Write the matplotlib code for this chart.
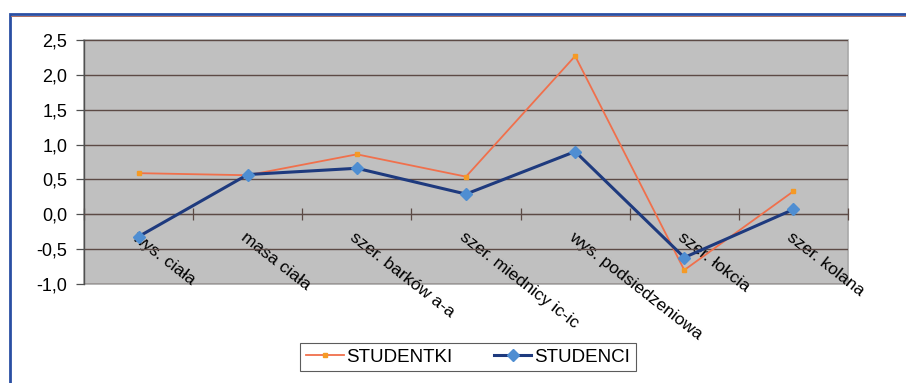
import matplotlib
matplotlib.use("Agg")
import matplotlib.pyplot as plt
from matplotlib.patches import Rectangle
from matplotlib.lines import Line2D
from matplotlib.ticker import FuncFormatter, FixedLocator
import numpy as np

plt.rcParams['font.family'] = ['Liberation Sans', 'DejaVu Sans']

categories = ["wys. ciała", "masa ciała", "szer. barków a-a", "szer. miednicy ic-ic",
              "wys. podsiedzeniowa", "szer. łokcia", "szer. kolana"]
studentki = [0.59, 0.56, 0.86, 0.54, 2.27, -0.80, 0.33]
studenci = [-0.32, 0.57, 0.66, 0.29, 0.90, -0.62, 0.07]
y_ticks = [-1.0, -0.5, 0.0, 0.5, 1.0, 1.5, 2.0, 2.5]

W, H = 906, 383
fig = plt.figure(figsize=(W / 100, H / 100), dpi=100)

# outer frame (continues past the right and bottom edges)
fig.patches.append(Rectangle((9.8 / W, -0.1), 1.2, 1 - 13.8 / H + 0.1,
                             transform=fig.transFigure, fill=False,
                             edgecolor='#2A4FA3', linewidth=2.0, zorder=0))
fig.add_artist(Line2D([11 / W, 1], [1 - 15.8 / H] * 2, transform=fig.transFigure,
                      color='#B07060', linewidth=0.7))

ax = fig.add_axes([84 / W, 1 - 284 / H, (848 - 84) / W, (284 - 40) / H])
ax.set_facecolor('#C0C0C0')
ax.patch.set_edgecolor('#A8A8A8')
ax.patch.set_linewidth(1.2)

x = np.arange(len(categories))
ax.set_xlim(-0.5, len(categories) - 0.5)
ax.set_ylim(-1.0, 2.5)

ax.yaxis.set_major_locator(FixedLocator(y_ticks))
ax.yaxis.set_major_formatter(FuncFormatter(lambda v, p: f"{v:.1f}".replace('.', ',')))
ax.grid(axis='y', color='#5C4A45', linewidth=1.0)
ax.set_axisbelow(True)

for side in ('top', 'right'):
    ax.spines[side].set_visible(False)
ax.spines['left'].set_color('#505050')
ax.spines['left'].set_linewidth(1.0)
ax.spines['bottom'].set_position(('data', 0))
ax.spines['bottom'].set_color('#5C4A45')

ax.tick_params(axis='y', direction='out', length=6, width=0.9, color='#505050',
               labelsize=13, pad=6)

ax.set_xticks(x)
ax.set_xticks(np.arange(len(categories) + 1) - 0.5, minor=True)
ax.tick_params(axis='x', which='major', length=0, pad=11)
ax.tick_params(axis='x', which='minor', direction='inout', length=8, width=0.9,
               color='#5C4A45')
ax.set_xticklabels(categories, rotation=-38, ha='left', va='top',
                   rotation_mode='anchor', fontsize=12.5)

l1, = ax.plot(x, studentki, color='#F0704C', linewidth=1.3, marker='s', markersize=3,
              markerfacecolor='#F59A25', markeredgecolor='#F59A25', label='STUDENTKI',
              zorder=3)
l2, = ax.plot(x, studenci, color='#1E3A7E', linewidth=2.2, marker='D', markersize=6,
              markerfacecolor='#4F8ED2', markeredgecolor='#4F8ED2', label='STUDENCI',
              zorder=4)

leg = fig.legend(handles=[l1, l2], loc='center', ncol=2,
                 bbox_to_anchor=(468 / W, 1 - 357 / H), fontsize=13.5,
                 frameon=True, fancybox=False, edgecolor='#333333',
                 handlelength=2.0, handletextpad=0.15, columnspacing=2.2,
                 borderpad=0.3)
leg.get_frame().set_linewidth(0.8)

fig.savefig('out.png', dpi=100, facecolor='white')
